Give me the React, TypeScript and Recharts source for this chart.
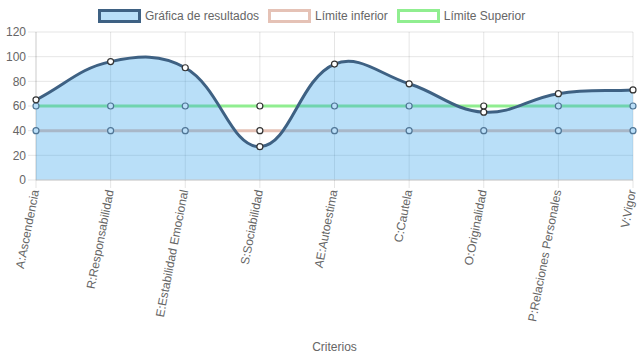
import React from "react";
import {
  ComposedChart,
  Area,
  CartesianGrid,
  XAxis,
  YAxis,
  Legend,
  Label,
} from "recharts";

const categories = [
  "A:Ascendencia",
  "R:Responsabilidad",
  "E:Estabilidad Emocional",
  "S:Sociabilidad",
  "AE:Autoestima",
  "C:Cautela",
  "O:Originalidad",
  "P:Relaciones Personales",
  "V:Vigor",
];
const resultados = [65, 96, 91, 27, 94, 78, 55, 70, 73];
const limiteInferior = [40, 40, 40, 40, 40, 40, 40, 40, 40];
const limiteSuperior = [60, 60, 60, 60, 60, 60, 60, 60, 60];
const yTicks = [0, 20, 40, 60, 80, 100, 120];

const data = categories.map((name, i) => ({
  name,
  resultados: resultados[i],
  inferior: limiteInferior[i],
  superior: limiteSuperior[i],
}));

const FONT = "'Liberation Sans', Arial, Helvetica, sans-serif";
const MAIN_STROKE = "#3e6183";
const MAIN_FILL = "rgb(54,162,235)";
const LOW_STROKE = "rgb(229,194,182)";
const HIGH_STROKE = "#90ee90";

// chart.js style bezier (tension 0.4) as a d3 curve factory
const chartJsCurve = (tension: number) => (context: any) => {
  let pts: number[][] = [];
  let line = NaN;
  return {
    areaStart() { line = 0; },
    areaEnd() { line = NaN; },
    lineStart() { pts = []; },
    lineEnd() {
      const n = pts.length;
      if (n) {
        if (line) context.lineTo(pts[0][0], pts[0][1]);
        else context.moveTo(pts[0][0], pts[0][1]);
        const ctrl = pts.map((cur, i) => {
          const prev = pts[i - 1] || cur;
          const next = pts[i + 1] || cur;
          const d01 = Math.hypot(cur[0] - prev[0], cur[1] - prev[1]);
          const d12 = Math.hypot(next[0] - cur[0], next[1] - cur[1]);
          let s01 = d01 / (d01 + d12);
          let s12 = d12 / (d01 + d12);
          if (isNaN(s01)) s01 = 0;
          if (isNaN(s12)) s12 = 0;
          const fa = tension * s01;
          const fb = tension * s12;
          return {
            px: cur[0] - fa * (next[0] - prev[0]),
            py: cur[1] - fa * (next[1] - prev[1]),
            nx: cur[0] + fb * (next[0] - prev[0]),
            ny: cur[1] + fb * (next[1] - prev[1]),
          };
        });
        for (let i = 1; i < n; i++) {
          context.bezierCurveTo(
            ctrl[i - 1].nx, ctrl[i - 1].ny,
            ctrl[i].px, ctrl[i].py,
            pts[i][0], pts[i][1]
          );
        }
      }
      if (line || (line !== 0 && n === 1)) context.closePath();
      line = 1 - line;
    },
    point(x: number, y: number) { pts.push([+x, +y]); },
  };
};

const XTick = ({ x, payload }: any) => (
  <text
    x={x}
    y={190}
    transform={`rotate(-79, ${x}, 190)`}
    textAnchor="end"
    dominantBaseline="middle"
    fill="#666"
    fontSize={12}
    fontFamily={FONT}
  >
    {payload.value}
  </text>
);

const legendItems = [
  { label: "Gráfica de resultados", stroke: MAIN_STROKE, fill: "rgba(54,162,235,0.35)" },
  { label: "Límite inferior", stroke: LOW_STROKE, fill: "#fff" },
  { label: "Límite Superior", stroke: HIGH_STROKE, fill: "#fff" },
];

const LegendContent = () => (
  <div style={{ display: "flex", height: 32, paddingLeft: 98, alignItems: "center", fontFamily: FONT, fontSize: 12, color: "#666" }}>
    {legendItems.map((it) => (
      <div key={it.label} style={{ display: "flex", alignItems: "center", marginRight: 9 }}>
        <div style={{ width: 43, height: 14, boxSizing: "border-box", border: `3px solid ${it.stroke}`, background: it.fill, marginRight: 4 }} />
        <span>{it.label}</span>
      </div>
    ))}
  </div>
);

const mainDot = { r: 3, fill: "#fff", fillOpacity: 1, stroke: "#333", strokeWidth: 1.2 };

// limit points sit under the translucent fill when the result curve is above them
const limitDot = (key: string) => (props: any) => {
  const { cx, cy, payload, index } = props;
  const covered = payload.resultados > payload[key];
  return (
    <circle
      key={`${key}-${index}`}
      cx={cx}
      cy={cy}
      r={3}
      fill={covered ? "#b9def8" : "#fff"}
      stroke={covered ? "#4f7595" : "#333"}
      strokeWidth={1.2}
    />
  );
};

export default function App() {
  return (
    <div style={{ position: "absolute", left: 0, top: 0, background: "#fff" }}>
      <ComposedChart width={637} height={359} data={data} margin={{ top: 0, right: 4, bottom: 0, left: 0 }}>
        <Legend verticalAlign="top" align="left" content={<LegendContent />} wrapperStyle={{ top: 0, left: 0, width: 637, height: 32 }} />
        <CartesianGrid stroke="rgba(0,0,0,0.1)" />
        <XAxis
          dataKey="name"
          padding={{ left: 0, right: 0 }}
          height={179}
          interval={0}
          tick={<XTick />}
          tickSize={8}
          tickLine={{ stroke: "rgba(0,0,0,0.1)" }}
          axisLine={{ stroke: "#ccc" }}
        >
          <Label value="Criterios" position="insideBottom" offset={8} fill="#666" fontSize={12} fontFamily={FONT} />
        </XAxis>
        <YAxis
          width={36}
          domain={[0, 120]}
          ticks={yTicks}
          interval={0}
          tickSize={8}
          tickMargin={2}
          tickLine={{ stroke: "rgba(0,0,0,0.1)" }}
          axisLine={{ stroke: "rgba(0,0,0,0.1)" }}
          tick={{ fill: "#666", fontSize: 12, fontFamily: FONT }}
        />
        <Area
          dataKey="superior"
          type="linear"
          stroke={HIGH_STROKE}
          strokeWidth={3}
          fill="none"
          dot={limitDot("superior")}
          activeDot={false}
          isAnimationActive={false}
        />
        <Area
          dataKey="inferior"
          type="linear"
          stroke={LOW_STROKE}
          strokeWidth={3}
          fill="none"
          dot={limitDot("inferior")}
          activeDot={false}
          isAnimationActive={false}
        />
        <Area
          dataKey="resultados"
          type={chartJsCurve(0.4) as any}
          stroke={MAIN_STROKE}
          strokeWidth={3}
          fill={MAIN_FILL}
          fillOpacity={0.35}
          dot={mainDot}
          activeDot={false}
          isAnimationActive={false}
        />
      </ComposedChart>
    </div>
  );
}
